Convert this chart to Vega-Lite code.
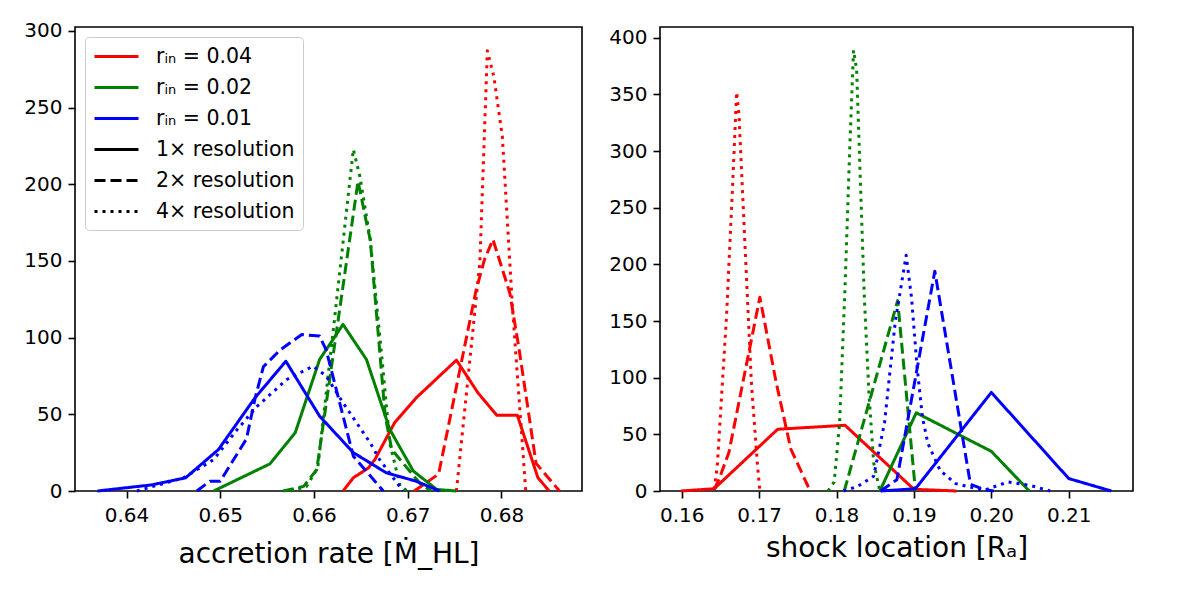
{
  "$schema": "https://vega.github.io/schema/vega-lite/v6.json",
  "background": "white",
  "padding": {"left": 23, "top": 20, "right": 5, "bottom": 5},
  "spacing": 78,
  "bounds": "flush",
  "config": {
    "font": "DejaVu Sans",
    "view": {"stroke": "black", "strokeWidth": 1.6},
    "axis": {"grid": false, "domain": false, "tickColor": "black", "tickSize": 7, "tickWidth": 1.6, "labelColor": "black", "labelFontSize": 20, "labelFont": "DejaVu Sans", "titleFont": "DejaVu Sans", "titleFontSize": 28, "titleFontWeight": "normal", "titleColor": "black"},
    "axisX": {"labelPadding": 7},
    "axisY": {"labelPadding": 6},
    "legend": {"title": null, "orient": "top-left", "offset": 10, "padding": 8, "strokeColor": "#cccccc", "fillColor": "rgba(255,255,255,0.85)", "cornerRadius": 4, "symbolType": "M-1,0H3.4", "symbolSize": 400, "symbolStrokeWidth": 3, "labelFont": "DejaVu Sans", "labelFontSize": 20.5, "labelColor": "black", "labelOffset": 40, "rowPadding": 9}
  },
  "resolve": {"scale": {"color": "independent", "strokeDash": "independent"}, "legend": {"color": "independent", "strokeDash": "independent"}},
  "datasets": {
    "acc": [
      {"g": "0.04", "r": "1", "x": 0.6631, "y": 0}, {"g": "0.04", "r": "1", "x": 0.6642, "y": 8.6}, {"g": "0.04", "r": "1", "x": 0.6658, "y": 15}, {"g": "0.04", "r": "1", "x": 0.6665, "y": 20.5}, {"g": "0.04", "r": "1", "x": 0.6686, "y": 44.5}, {"g": "0.04", "r": "1", "x": 0.6709, "y": 60.7}, {"g": "0.04", "r": "1", "x": 0.6752, "y": 85.3}, {"g": "0.04", "r": "1", "x": 0.6775, "y": 64}, {"g": "0.04", "r": "1", "x": 0.6795, "y": 49.4}, {"g": "0.04", "r": "1", "x": 0.6817, "y": 49.4}, {"g": "0.04", "r": "1", "x": 0.6839, "y": 8.6}, {"g": "0.04", "r": "1", "x": 0.6851, "y": 0},
      {"g": "0.04", "r": "2", "x": 0.6707, "y": 0}, {"g": "0.04", "r": "2", "x": 0.6733, "y": 11}, {"g": "0.04", "r": "2", "x": 0.6773, "y": 131}, {"g": "0.04", "r": "2", "x": 0.6782, "y": 151}, {"g": "0.04", "r": "2", "x": 0.6791, "y": 164}, {"g": "0.04", "r": "2", "x": 0.6809, "y": 129}, {"g": "0.04", "r": "2", "x": 0.6819, "y": 92}, {"g": "0.04", "r": "2", "x": 0.6837, "y": 18}, {"g": "0.04", "r": "2", "x": 0.6862, "y": 0},
      {"g": "0.04", "r": "4", "x": 0.6752, "y": 0}, {"g": "0.04", "r": "4", "x": 0.6777, "y": 149}, {"g": "0.04", "r": "4", "x": 0.6785, "y": 287}, {"g": "0.04", "r": "4", "x": 0.6792, "y": 270}, {"g": "0.04", "r": "4", "x": 0.6801, "y": 231}, {"g": "0.04", "r": "4", "x": 0.6812, "y": 118}, {"g": "0.04", "r": "4", "x": 0.6826, "y": 0},
      {"g": "0.02", "r": "1", "x": 0.6493, "y": 0}, {"g": "0.02", "r": "1", "x": 0.6553, "y": 17.7}, {"g": "0.02", "r": "1", "x": 0.658, "y": 38}, {"g": "0.02", "r": "1", "x": 0.6606, "y": 85.7}, {"g": "0.02", "r": "1", "x": 0.6631, "y": 108.6}, {"g": "0.02", "r": "1", "x": 0.6656, "y": 85.7}, {"g": "0.02", "r": "1", "x": 0.6681, "y": 40}, {"g": "0.02", "r": "1", "x": 0.6706, "y": 13}, {"g": "0.02", "r": "1", "x": 0.6731, "y": 1}, {"g": "0.02", "r": "1", "x": 0.6752, "y": 0},
      {"g": "0.02", "r": "2", "x": 0.6567, "y": 0}, {"g": "0.02", "r": "2", "x": 0.6589, "y": 3}, {"g": "0.02", "r": "2", "x": 0.6603, "y": 14}, {"g": "0.02", "r": "2", "x": 0.6647, "y": 202}, {"g": "0.02", "r": "2", "x": 0.6656, "y": 175}, {"g": "0.02", "r": "2", "x": 0.666, "y": 164}, {"g": "0.02", "r": "2", "x": 0.667, "y": 92}, {"g": "0.02", "r": "2", "x": 0.6676, "y": 49}, {"g": "0.02", "r": "2", "x": 0.6683, "y": 27}, {"g": "0.02", "r": "2", "x": 0.6713, "y": 5}, {"g": "0.02", "r": "2", "x": 0.6725, "y": 0},
      {"g": "0.02", "r": "4", "x": 0.6575, "y": 0}, {"g": "0.02", "r": "4", "x": 0.6592, "y": 3}, {"g": "0.02", "r": "4", "x": 0.6604, "y": 15}, {"g": "0.02", "r": "4", "x": 0.6621, "y": 107}, {"g": "0.02", "r": "4", "x": 0.6642, "y": 222.7}, {"g": "0.02", "r": "4", "x": 0.6649, "y": 205}, {"g": "0.02", "r": "4", "x": 0.666, "y": 164}, {"g": "0.02", "r": "4", "x": 0.6672, "y": 90}, {"g": "0.02", "r": "4", "x": 0.6681, "y": 31}, {"g": "0.02", "r": "4", "x": 0.6692, "y": 3}, {"g": "0.02", "r": "4", "x": 0.67, "y": 0},
      {"g": "0.01", "r": "1", "x": 0.6369, "y": 0}, {"g": "0.01", "r": "1", "x": 0.6427, "y": 4}, {"g": "0.01", "r": "1", "x": 0.6463, "y": 8.6}, {"g": "0.01", "r": "1", "x": 0.6498, "y": 27}, {"g": "0.01", "r": "1", "x": 0.6537, "y": 60.7}, {"g": "0.01", "r": "1", "x": 0.657, "y": 84.6}, {"g": "0.01", "r": "1", "x": 0.6606, "y": 48.8}, {"g": "0.01", "r": "1", "x": 0.6642, "y": 25}, {"g": "0.01", "r": "1", "x": 0.6677, "y": 11.9}, {"g": "0.01", "r": "1", "x": 0.6709, "y": 6.4}, {"g": "0.01", "r": "1", "x": 0.6734, "y": 0},
      {"g": "0.01", "r": "2", "x": 0.6475, "y": 0}, {"g": "0.01", "r": "2", "x": 0.6489, "y": 6.4}, {"g": "0.01", "r": "2", "x": 0.65, "y": 6.4}, {"g": "0.01", "r": "2", "x": 0.6528, "y": 34}, {"g": "0.01", "r": "2", "x": 0.6537, "y": 60}, {"g": "0.01", "r": "2", "x": 0.6546, "y": 81}, {"g": "0.01", "r": "2", "x": 0.6564, "y": 92}, {"g": "0.01", "r": "2", "x": 0.6587, "y": 102}, {"g": "0.01", "r": "2", "x": 0.6606, "y": 101}, {"g": "0.01", "r": "2", "x": 0.6613, "y": 92}, {"g": "0.01", "r": "2", "x": 0.6642, "y": 22.7}, {"g": "0.01", "r": "2", "x": 0.6674, "y": 0},
      {"g": "0.01", "r": "4", "x": 0.6411, "y": 0}, {"g": "0.01", "r": "4", "x": 0.6461, "y": 8.6}, {"g": "0.01", "r": "4", "x": 0.6493, "y": 20.5}, {"g": "0.01", "r": "4", "x": 0.6518, "y": 40}, {"g": "0.01", "r": "4", "x": 0.6539, "y": 55}, {"g": "0.01", "r": "4", "x": 0.6571, "y": 72.7}, {"g": "0.01", "r": "4", "x": 0.6599, "y": 81.4}, {"g": "0.01", "r": "4", "x": 0.6613, "y": 75}, {"g": "0.01", "r": "4", "x": 0.6631, "y": 57.5}, {"g": "0.01", "r": "4", "x": 0.666, "y": 31.4}, {"g": "0.01", "r": "4", "x": 0.667, "y": 20.5}, {"g": "0.01", "r": "4", "x": 0.6695, "y": 0}
    ],
    "shock": [
      {"g": "0.04", "r": "1", "x": 0.1599, "y": 0}, {"g": "0.04", "r": "1", "x": 0.1642, "y": 2}, {"g": "0.04", "r": "1", "x": 0.1724, "y": 54.5}, {"g": "0.04", "r": "1", "x": 0.1811, "y": 58}, {"g": "0.04", "r": "1", "x": 0.19, "y": 1.5}, {"g": "0.04", "r": "1", "x": 0.1955, "y": 0},
      {"g": "0.04", "r": "2", "x": 0.1642, "y": 1.5}, {"g": "0.04", "r": "2", "x": 0.1648, "y": 10}, {"g": "0.04", "r": "2", "x": 0.1661, "y": 34}, {"g": "0.04", "r": "2", "x": 0.1701, "y": 171}, {"g": "0.04", "r": "2", "x": 0.1722, "y": 96}, {"g": "0.04", "r": "2", "x": 0.1741, "y": 37}, {"g": "0.04", "r": "2", "x": 0.1766, "y": 0},
      {"g": "0.04", "r": "4", "x": 0.1642, "y": 1.5}, {"g": "0.04", "r": "4", "x": 0.1646, "y": 22}, {"g": "0.04", "r": "4", "x": 0.1658, "y": 155}, {"g": "0.04", "r": "4", "x": 0.1666, "y": 273}, {"g": "0.04", "r": "4", "x": 0.1671, "y": 352}, {"g": "0.04", "r": "4", "x": 0.1674, "y": 332}, {"g": "0.04", "r": "4", "x": 0.1682, "y": 214}, {"g": "0.04", "r": "4", "x": 0.169, "y": 96}, {"g": "0.04", "r": "4", "x": 0.1698, "y": 22}, {"g": "0.04", "r": "4", "x": 0.1701, "y": 0},
      {"g": "0.02", "r": "1", "x": 0.1856, "y": 0}, {"g": "0.02", "r": "1", "x": 0.1903, "y": 69}, {"g": "0.02", "r": "1", "x": 0.2, "y": 35}, {"g": "0.02", "r": "1", "x": 0.2049, "y": 0},
      {"g": "0.02", "r": "2", "x": 0.181, "y": 0}, {"g": "0.02", "r": "2", "x": 0.1879, "y": 168}, {"g": "0.02", "r": "2", "x": 0.1902, "y": 0},
      {"g": "0.02", "r": "4", "x": 0.1789, "y": 0}, {"g": "0.02", "r": "4", "x": 0.1797, "y": 8}, {"g": "0.02", "r": "4", "x": 0.1804, "y": 60}, {"g": "0.02", "r": "4", "x": 0.1811, "y": 180}, {"g": "0.02", "r": "4", "x": 0.1817, "y": 300}, {"g": "0.02", "r": "4", "x": 0.1822, "y": 389}, {"g": "0.02", "r": "4", "x": 0.1826, "y": 372}, {"g": "0.02", "r": "4", "x": 0.1831, "y": 270}, {"g": "0.02", "r": "4", "x": 0.1836, "y": 170}, {"g": "0.02", "r": "4", "x": 0.1842, "y": 85}, {"g": "0.02", "r": "4", "x": 0.1848, "y": 25}, {"g": "0.02", "r": "4", "x": 0.1856, "y": 0},
      {"g": "0.01", "r": "1", "x": 0.1857, "y": 0}, {"g": "0.01", "r": "1", "x": 0.1902, "y": 2}, {"g": "0.01", "r": "1", "x": 0.2, "y": 87}, {"g": "0.01", "r": "1", "x": 0.21, "y": 11}, {"g": "0.01", "r": "1", "x": 0.2155, "y": 0},
      {"g": "0.01", "r": "2", "x": 0.1857, "y": 0}, {"g": "0.01", "r": "2", "x": 0.1878, "y": 10}, {"g": "0.01", "r": "2", "x": 0.1927, "y": 194}, {"g": "0.01", "r": "2", "x": 0.1973, "y": 6}, {"g": "0.01", "r": "2", "x": 0.199, "y": 1.5}, {"g": "0.01", "r": "2", "x": 0.2003, "y": 0},
      {"g": "0.01", "r": "4", "x": 0.1809, "y": 0}, {"g": "0.01", "r": "4", "x": 0.1827, "y": 4}, {"g": "0.01", "r": "4", "x": 0.1848, "y": 13}, {"g": "0.01", "r": "4", "x": 0.1862, "y": 60}, {"g": "0.01", "r": "4", "x": 0.1876, "y": 150}, {"g": "0.01", "r": "4", "x": 0.189, "y": 208}, {"g": "0.01", "r": "4", "x": 0.1897, "y": 170}, {"g": "0.01", "r": "4", "x": 0.1904, "y": 110}, {"g": "0.01", "r": "4", "x": 0.1911, "y": 65}, {"g": "0.01", "r": "4", "x": 0.1918, "y": 42}, {"g": "0.01", "r": "4", "x": 0.1934, "y": 18}, {"g": "0.01", "r": "4", "x": 0.1954, "y": 6.5}, {"g": "0.01", "r": "4", "x": 0.199, "y": 0.6}, {"g": "0.01", "r": "4", "x": 0.2022, "y": 8}, {"g": "0.01", "r": "4", "x": 0.205, "y": 5}, {"g": "0.01", "r": "4", "x": 0.2076, "y": 0}
    ]
  },
  "hconcat": [
    {
      "width": 507,
      "height": 464,
      "data": {"name": "acc"},
      "mark": {"type": "line", "strokeWidth": 3, "strokeCap": "butt", "strokeJoin": "round"},
      "encoding": {
        "x": {"field": "x", "type": "quantitative", "scale": {"domain": [0.6345, 0.6886], "nice": false, "zero": false}, "axis": {"values": [0.64, 0.65, 0.66, 0.67, 0.68], "format": ".2f", "title": "accretion rate [Ṁ_HL]", "titlePadding": 15}},
        "y": {"field": "y", "type": "quantitative", "scale": {"domain": [0, 302.5], "nice": false}, "axis": {"values": [0, 50, 100, 150, 200, 250, 300], "title": null}},
        "color": {"field": "g", "type": "nominal", "scale": {"domain": ["0.04", "0.02", "0.01", "1×", "2×", "4×"], "range": ["#ff0000", "#008000", "#0000ff", "#000000", "#000000", "#000000"]},
          "legend": {
            "labelExpr": "indexof(['0.04','0.02','0.01'], datum.value) >= 0 ? 'rᵢₙ = ' + datum.value : datum.value + ' resolution'",
            "encode": {"symbols": {"update": {"strokeDash": {"signal": "datum.value == '2×' ? [11,5] : datum.value == '4×' ? [3,5] : [1,0]"}}}}
          }
        },
        "strokeDash": {"field": "r", "type": "nominal", "scale": {"domain": ["1", "2", "4"], "range": [[1, 0], [11, 5], [3, 5]]}, "legend": null}
      }
    },
    {
      "width": 473,
      "height": 464,
      "data": {"name": "shock"},
      "mark": {"type": "line", "strokeWidth": 3, "strokeCap": "butt", "strokeJoin": "round"},
      "encoding": {
        "x": {"field": "x", "type": "quantitative", "scale": {"domain": [0.1572, 0.2183], "nice": false, "zero": false}, "axis": {"values": [0.16, 0.17, 0.18, 0.19, 0.2, 0.21], "format": ".2f", "title": "shock location [Rₐ]", "titlePadding": 9}},
        "y": {"field": "y", "type": "quantitative", "scale": {"domain": [0, 409.5], "nice": false}, "axis": {"values": [0, 50, 100, 150, 200, 250, 300, 350, 400], "title": null}},
        "color": {"field": "g", "type": "nominal", "scale": {"domain": ["0.04", "0.02", "0.01"], "range": ["#ff0000", "#008000", "#0000ff"]}, "legend": null},
        "strokeDash": {"field": "r", "type": "nominal", "scale": {"domain": ["1", "2", "4"], "range": [[1, 0], [11, 5], [3, 5]]}, "legend": null}
      }
    }
  ]
}
